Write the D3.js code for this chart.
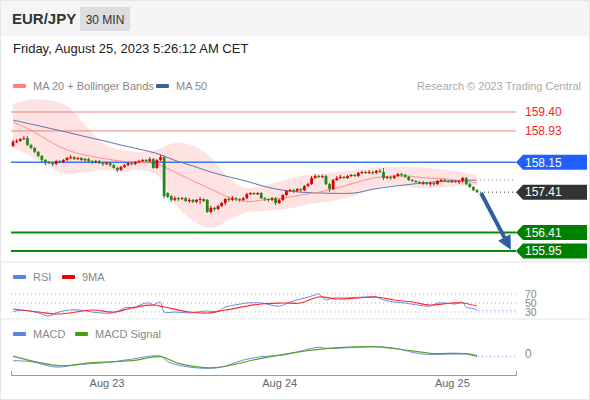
<!DOCTYPE html>
<html>
<head>
<meta charset="utf-8">
<script src="https://cdn.jsdelivr.net/npm/d3@7"></script>
<style>
  body { margin: 0; background: #fff; }
  svg { display: block; font-family: "Liberation Sans", Arial, Helvetica, sans-serif; }
</style>
</head>
<body>
<div id="chart"></div>
<script>
// ---------------- data ----------------
var opens = [158.56,158.66,158.68,158.73,158.75,158.58,158.51,158.41,158.31,158.21,
  158.16,158.13,158.11,158.18,158.16,158.21,158.26,158.28,158.23,158.26,
  158.21,158.23,158.18,158.16,158.18,158.13,158.11,158.13,158.08,158.01,
  157.96,158.04,158.08,158.13,158.11,158.16,158.18,158.21,158.18,158.23,
  158.01,158.21,158.28,157.39,157.31,157.22,157.26,157.24,157.26,157.19,
  157.22,157.17,157.22,157.24,157.22,156.92,157.02,156.99,157.07,157.14,
  157.24,157.22,157.26,157.24,157.22,157.26,157.36,157.39,157.36,157.39,
  157.26,157.24,157.22,157.26,157.14,157.22,157.34,157.44,157.46,157.44,
  157.49,157.46,157.56,157.61,157.76,157.81,157.79,157.81,157.61,157.49,
  157.71,157.76,157.79,157.76,157.81,157.84,157.81,157.89,157.91,157.89,
  157.91,157.89,157.94,157.91,157.76,157.79,157.76,157.81,157.86,157.84,
  157.79,157.71,157.69,157.66,157.64,157.64,157.61,157.64,157.61,157.69,
  157.71,157.69,157.66,157.69,157.66,157.69,157.76,157.61,157.54,157.46];
var closes = [158.66,158.68,158.73,158.75,158.58,158.51,158.41,158.31,158.21,158.16,
  158.13,158.11,158.18,158.16,158.21,158.26,158.28,158.23,158.26,158.21,
  158.23,158.18,158.16,158.18,158.13,158.11,158.13,158.08,158.01,157.96,
  158.04,158.08,158.13,158.11,158.16,158.18,158.21,158.18,158.23,158.01,
  158.21,158.28,157.31,157.29,157.22,157.26,157.24,157.26,157.19,157.22,
  157.17,157.22,157.24,157.19,156.92,157.02,156.99,157.07,157.14,157.24,
  157.22,157.26,157.24,157.22,157.26,157.36,157.39,157.36,157.39,157.26,
  157.24,157.22,157.26,157.14,157.22,157.34,157.44,157.46,157.44,157.49,
  157.46,157.56,157.61,157.76,157.81,157.79,157.81,157.61,157.49,157.71,
  157.76,157.79,157.76,157.81,157.84,157.81,157.89,157.91,157.89,157.91,
  157.89,157.94,157.91,157.76,157.79,157.76,157.81,157.86,157.84,157.79,
  157.71,157.69,157.66,157.64,157.64,157.61,157.64,157.61,157.69,157.71,
  157.69,157.66,157.69,157.66,157.69,157.76,157.61,157.54,157.46,157.41];
var highs = [158.71,158.73,158.75,158.80,158.80,158.61,158.53,158.43,158.33,158.23,
  158.18,158.16,158.21,158.21,158.23,158.28,158.33,158.31,158.28,158.28,
  158.26,158.26,158.21,158.21,158.21,158.16,158.16,158.16,158.11,158.04,
  158.06,158.11,158.16,158.16,158.18,158.21,158.23,158.23,158.28,158.26,
  158.23,158.33,158.31,157.41,157.34,157.31,157.29,157.29,157.29,157.26,
  157.24,157.24,157.29,157.26,157.24,157.07,157.04,157.09,157.17,157.26,
  157.29,157.31,157.29,157.26,157.29,157.39,157.41,157.41,157.41,157.41,
  157.29,157.26,157.29,157.29,157.24,157.36,157.46,157.49,157.49,157.51,
  157.51,157.59,157.64,157.81,157.86,157.84,157.84,157.84,157.64,157.74,
  157.81,157.84,157.81,157.84,157.86,157.86,157.91,157.94,157.94,157.96,
  157.94,157.96,157.99,158.01,157.81,157.81,157.84,157.89,157.89,157.86,
  157.81,157.74,157.71,157.69,157.69,157.66,157.66,157.66,157.71,157.74,
  157.74,157.71,157.71,157.71,157.71,157.79,157.79,157.64,157.56,157.49];
var lows = [158.53,158.63,158.66,158.71,158.56,158.48,158.38,158.28,158.16,158.08,
  158.11,158.06,158.08,158.13,158.13,158.18,158.23,158.21,158.21,158.18,
  158.16,158.13,158.11,158.13,158.11,158.06,158.08,158.04,157.99,157.91,
  157.94,158.01,158.06,158.08,158.08,158.13,158.16,158.16,158.16,157.99,
  157.99,158.18,157.26,157.26,157.17,157.19,157.19,157.22,157.17,157.14,
  157.14,157.14,157.12,157.17,156.89,156.89,156.94,156.97,157.04,157.09,
  157.17,157.19,157.19,157.17,157.19,157.24,157.34,157.34,157.34,157.24,
  157.19,157.17,157.19,157.09,157.12,157.19,157.31,157.41,157.39,157.41,
  157.41,157.44,157.54,157.59,157.74,157.76,157.76,157.59,157.41,157.46,
  157.69,157.74,157.74,157.74,157.79,157.79,157.79,157.86,157.86,157.86,
  157.84,157.86,157.89,157.71,157.74,157.71,157.74,157.79,157.79,157.76,
  157.69,157.66,157.64,157.61,157.59,157.59,157.56,157.56,157.59,157.66,
  157.66,157.64,157.64,157.64,157.61,157.64,157.59,157.51,157.44,157.39];

// moving averages and Bollinger bands, read at every 5th bar
var maIdx   = [0,5,10,15,20,25,30,35,40,45,50,55,60,65,70,75,80,85,90,95,100,105,110,115,120,125,129];
var ma20    = [159.15,158.95,158.68,158.46,158.33,158.25,158.18,158.15,158.11,157.91,157.69,157.49,157.28,157.18,157.22,157.26,157.34,157.41,157.51,157.64,157.76,157.81,157.81,157.76,157.74,157.69,157.64];
var ma50    = [159.20,159.10,159.00,158.90,158.79,158.69,158.58,158.48,158.37,158.20,158.06,157.91,157.79,157.68,157.55,157.46,157.41,157.39,157.38,157.39,157.48,157.55,157.60,157.65,157.68,157.70,157.71];
var bbUpper = [159.60,159.71,159.69,159.55,159.08,158.63,158.46,158.41,158.46,158.63,158.56,158.28,157.76,157.51,157.59,157.70,157.81,157.86,157.91,157.96,158.01,158.04,158.04,158.01,157.97,157.90,157.84];
var bbLower = [158.51,158.31,158.04,157.86,157.91,157.96,157.91,157.96,157.84,157.12,156.70,156.52,156.72,156.91,156.94,156.98,157.07,157.14,157.21,157.32,157.49,157.58,157.54,157.51,157.54,157.56,157.59];

// key levels
var levelValues = [159.40, 158.93, 158.15, 157.41, 156.41, 155.95];
var levelKinds  = ["res", "res", "pivot", "last", "sup", "sup"];

// RSI and its 9 period average
var rsiIdx = [0,3,7,10,12,15,19,22,28,31,34,36,38,39,41,42,45,49,53,57,59,62,65,69,74,77,80,82,84,85,87,89,92,97,101,103,106,109,112,116,118,120,123,125,126,128,129];
var rsiVal = [31,34,28,21,28,34,34,30,28,39,41,48,50,46,52,30,30,28,32,32,41,46,50,50,43,52,59,63,68,70,57,61,61,63,63,57,52,50,46,43,50,50,48,52,41,37,34];
var rsiMaIdx = [0,7,13,22,28,33,39,42,49,54,59,69,75,80,85,90,96,101,106,111,116,122,125,129];
var rsiMaVal = [36.7,30,25.6,34.4,30,38.9,45.6,41.1,30,27.8,34.4,47.8,50,50,63.3,58.9,61.1,63.3,56.7,52.2,45.6,50,50,43.3];
var rsiLevels = [70, 50, 30];

// MACD
var macdIdx = [0,5,12,17,28,33,41,43,49,57,64,69,75,85,87,96,101,106,114,122,126,129];
var macdVal = [-0.036,-0.041,-0.068,-0.058,-0.041,-0.028,-0.013,-0.041,-0.068,-0.071,-0.033,-0.016,-0.008,0.031,0.026,0.031,0.034,0.026,-0.003,-0.003,-0.003,-0.016];
var sigIdx  = [0,13,22,33,41,46,56,69,85,101,111,116,126,129];
var sigVal  = [-0.013,-0.061,-0.046,-0.036,-0.016,-0.049,-0.071,-0.024,0.021,0.033,0.013,0.001,-0.001,-0.011];

var tickDates  = [new Date(2023,7,23), new Date(2023,7,24), new Date(2023,7,25)];
var startTime  = new Date(2023,7,22,11,0);   // first 30 min bar
var barTimes   = closes.map(function (d, i) { return d3.timeMinute.offset(startTime, 30 * i); });

// ---------------- chart ----------------
var W = 590, H = 400;
var font = "'Liberation Sans', Arial, sans-serif";

var svg = d3.select("#chart").append("svg")
    .attr("width", W).attr("height", H);

svg.append("rect").attr("x", 0.5).attr("y", 0.5).attr("width", W - 1).attr("height", H - 1)
    .attr("fill", "#fff").attr("stroke", "#e6e6e6");

// header
svg.append("rect").attr("x", 1).attr("y", 1).attr("width", W - 2).attr("height", 35).attr("fill", "#f5f5f5");
svg.append("text").attr("x", 12).attr("y", 24).attr("font-size", 15).attr("font-weight", "bold")
    .attr("fill", "#333").text("EUR/JPY");
svg.append("rect").attr("x", 80).attr("y", 7).attr("width", 50).attr("height", 24).attr("fill", "#dcdde1");
svg.append("text").attr("x", 105).attr("y", 23.5).attr("text-anchor", "middle").attr("font-size", 12)
    .attr("fill", "#333").text("30 MIN");
svg.append("text").attr("x", 13).attr("y", 53).attr("font-size", 13).attr("fill", "#222")
    .text("Friday, August 25, 2023 5:26:12 AM CET");

// scales
var x = d3.scaleTime()
    .domain([new Date(2023,7,22,10,43), new Date(2023,7,25,8,55)])
    .range([11, 516]);
var xi = function (i) { return x(barTimes[Math.min(i, barTimes.length - 1)]); };
var y = d3.scaleLinear().domain([155.95, 159.40]).range([251, 112]);
var yRsi = d3.scaleLinear().domain([30, 70]).range([312, 294]);
var yMacd = d3.scaleLinear().domain([-0.1, 0.1]).range([373.5, 333.5]);

// legend helper
function legend(items, ly) {
  items.forEach(function (it) {
    svg.append("rect").attr("x", it.x).attr("y", ly - 2).attr("width", 13).attr("height", 4)
        .attr("rx", 1).attr("fill", it.color);
    svg.append("text").attr("x", it.x + 20).attr("y", ly + 4).attr("font-size", 11)
        .attr("fill", "#888").text(it.label);
  });
}
legend([{x: 13, color: "#ff8080", label: "MA 20 + Bollinger Bands"},
        {x: 156, color: "#3a62a0", label: "MA 50"}], 86);
svg.append("text").attr("x", 581).attr("y", 90).attr("text-anchor", "end").attr("font-size", 11)
    .attr("fill", "#aaa").text("Research \u00a9 2023 Trading Central");

// Bollinger band area
var band = maIdx.map(function (d, k) { return {i: d, lo: bbLower[k], hi: bbUpper[k]}; });
svg.append("path").datum(band)
    .attr("fill", "rgba(255,110,110,0.2)")
    .attr("d", d3.area().curve(d3.curveCatmullRom)
        .x(function (d) { return xi(d.i); })
        .y0(function (d) { return y(d.lo); })
        .y1(function (d) { return y(d.hi); }));

// level lines
levelValues.forEach(function (v, k) {
  var kind = levelKinds[k];
  if (kind === "last") return;
  svg.append("line").attr("x1", 11).attr("x2", 516).attr("y1", y(v)).attr("y2", y(v))
      .attr("stroke", kind === "res" ? "#f08080" : kind === "pivot" ? "#3a78f2" : "#0a8a0a")
      .attr("stroke-width", kind === "res" ? 1 : kind === "pivot" ? 1.5 : 2);
});

// moving averages
function sparseLine(idx, vals, ys) {
  return d3.line().curve(d3.curveCatmullRom)
      .x(function (d) { return xi(d); })
      .y(function (d, k) { return ys(vals[k]); })(idx);
}
svg.append("path").attr("d", sparseLine(maIdx, ma50, y)).attr("fill", "none")
    .attr("stroke", "#5a78b0").attr("stroke-width", 1);
svg.append("path").attr("d", sparseLine(maIdx, ma20, y)).attr("fill", "none")
    .attr("stroke", "#ff8c8c").attr("stroke-width", 1);

// candles
var bars = svg.append("g");
closes.forEach(function (c, i) {
  var o = opens[i], cx = xi(i);
  var col = c < o ? "#1f8a1f" : "#e00000";
  bars.append("line").attr("x1", cx).attr("x2", cx).attr("y1", y(highs[i])).attr("y2", y(lows[i]))
      .attr("stroke", col).attr("stroke-width", 1);
  var top = y(Math.max(o, c)), h = Math.max(1, Math.abs(y(o) - y(c)));
  bars.append("rect").attr("x", cx - 1.4).attr("y", top).attr("width", 2.8).attr("height", h)
      .attr("fill", col);
});

// dotted projections after last bar
var lastI = closes.length - 1;
svg.append("line").attr("x1", xi(lastI) + 3).attr("x2", 515)
    .attr("y1", y(closes[lastI])).attr("y2", y(closes[lastI]))
    .attr("stroke", "#333").attr("stroke-dasharray", "1,3");
svg.append("line").attr("x1", xi(lastI) + 3).attr("x2", 515)
    .attr("y1", y(ma50[ma50.length - 1])).attr("y2", y(ma50[ma50.length - 1]))
    .attr("stroke", "#6b7fa6").attr("stroke-dasharray", "1,3");

// forecast arrow
var ax1 = xi(lastI) + 4, ay1 = y(157.39);
var ax2 = x(d3.timeMinute.offset(startTime, 30 * 138.4)), ay2 = y(155.98);
var ang = Math.atan2(ay2 - ay1, ax2 - ax1);
svg.append("line").attr("x1", ax1).attr("y1", ay1)
    .attr("x2", ax2 - 10 * Math.cos(ang)).attr("y2", ay2 - 10 * Math.sin(ang))
    .attr("stroke", "#2f5f9e").attr("stroke-width", 4);
svg.append("path").attr("fill", "#2f5f9e")
    .attr("d", d3.line()([
      [ax2, ay2],
      [ax2 - 14 * Math.cos(ang) + 7 * Math.sin(ang), ay2 - 14 * Math.sin(ang) - 7 * Math.cos(ang)],
      [ax2 - 14 * Math.cos(ang) - 7 * Math.sin(ang), ay2 - 14 * Math.sin(ang) + 7 * Math.cos(ang)]
    ]) + "Z");

// level labels
levelValues.forEach(function (v, k) {
  var kind = levelKinds[k], yc = y(v);
  if (kind !== "res") {
    var fill = kind === "pivot" ? "#1f5fff" : kind === "last" ? "#333333" : "#008000";
    svg.append("path").attr("fill", fill)
        .attr("d", "M516," + yc + "L523," + (yc - 7.5) + "H587V" + (yc + 7.5) + "H523Z");
  }
  svg.append("text").attr("x", 525).attr("y", yc).attr("dy", "0.36em").attr("font-size", 12)
      .attr("fill", kind === "res" ? "#ff1a1a" : "#fff").text(v.toFixed(2));
});

// panel separators
[262, 319].forEach(function (sy) {
  svg.append("line").attr("x1", 1).attr("x2", W - 1).attr("y1", sy).attr("y2", sy)
      .attr("stroke", "#e3e3e3");
});

// RSI panel
legend([{x: 13, color: "#5b84e8", label: "RSI"}, {x: 62, color: "#ee0000", label: "9MA"}], 277);
rsiLevels.forEach(function (v) {
  svg.append("line").attr("x1", 11).attr("x2", 516).attr("y1", yRsi(v)).attr("y2", yRsi(v))
      .attr("stroke", "#aaa").attr("stroke-dasharray", "1,3");
  svg.append("text").attr("x", 525).attr("y", yRsi(v)).attr("dy", "0.36em").attr("font-size", 10.5)
      .attr("fill", "#888").text(v);
});
svg.append("path").attr("d", sparseLine(rsiIdx, rsiVal, yRsi)).attr("fill", "none")
    .attr("stroke", "#6a8ce8").attr("stroke-width", 1);
svg.append("path").attr("d", sparseLine(rsiMaIdx, rsiMaVal, yRsi)).attr("fill", "none")
    .attr("stroke", "#ff2a2a").attr("stroke-width", 1.2);
svg.append("line").attr("x1", xi(lastI) + 1).attr("x2", 515)
    .attr("y1", yRsi(rsiVal[rsiVal.length - 1])).attr("y2", yRsi(rsiVal[rsiVal.length - 1]))
    .attr("stroke", "#6a8ce8").attr("stroke-dasharray", "1,3");

// MACD panel
legend([{x: 13, color: "#5b84e8", label: "MACD"}, {x: 75, color: "#4a9e0a", label: "MACD Signal"}], 334);
svg.append("path").attr("d", sparseLine(macdIdx, macdVal, yMacd)).attr("fill", "none")
    .attr("stroke", "#6a8ce8").attr("stroke-width", 1);
svg.append("path").attr("d", sparseLine(sigIdx, sigVal, yMacd)).attr("fill", "none")
    .attr("stroke", "#5aa02c").attr("stroke-width", 1.2);
svg.append("line").attr("x1", xi(lastI) + 1).attr("x2", 515)
    .attr("y1", yMacd(macdVal[macdVal.length - 1])).attr("y2", yMacd(macdVal[macdVal.length - 1]))
    .attr("stroke", "#6a8ce8").attr("stroke-dasharray", "1,3");
svg.append("text").attr("x", 525).attr("y", yMacd(0)).attr("dy", "0.36em").attr("font-size", 12)
    .attr("fill", "#888").text("0");

// x axis
var xAxis = d3.axisBottom(x).tickValues(tickDates).tickFormat(d3.timeFormat("%b %d"))
    .tickSize(0).tickSizeOuter(5).tickPadding(8);
var gx = svg.append("g").attr("transform", "translate(0,371)").call(xAxis);
gx.select(".domain").attr("stroke", "#999").attr("transform", "translate(0,5) scale(1,-1)");
gx.selectAll("text").attr("fill", "#666").attr("font-size", 11).attr("font-family", font);
</script>
</body>
</html>
